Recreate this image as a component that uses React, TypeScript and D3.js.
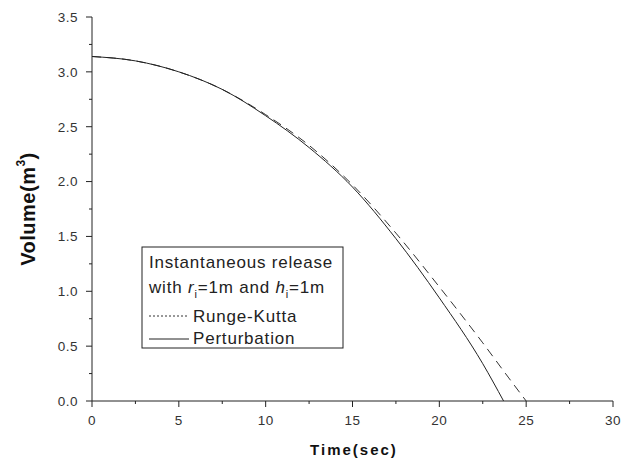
import React from 'react'
import * as d3 from 'd3'

// values
const timeRK = [0, 2.5, 5, 7.5, 10, 12.5, 15, 17.5, 20, 22.5, 24, 25]
const volumeRK = [3.14, 3.1, 3.0, 2.84, 2.61, 2.33, 1.97, 1.53, 1.04, 0.53, 0.21, 0]
const timePert = [0, 2.5, 5, 7.5, 10, 12.5, 15, 17.5, 20, 22.5, 23.7]
const volumePert = [3.14, 3.1, 3.0, 2.84, 2.6, 2.31, 1.95, 1.48, 0.94, 0.34, 0]

const xTicks = [0, 5, 10, 15, 20, 25, 30]
const yTicks = [0.0, 0.5, 1.0, 1.5, 2.0, 2.5, 3.0, 3.5]
const legendTitle = ['Instantaneous release']
const seriesNames = ['Runge-Kutta', 'Perturbation']

const font = 'Liberation Sans, Arial, sans-serif'

function App() {
    const width = 632
    const height = 459
    const margin = { top: 17, right: 19, bottom: 58, left: 92 }
    const innerWidth = width - margin.left - margin.right
    const innerHeight = height - margin.top - margin.bottom

    const x = d3.scaleLinear().domain([0, 30]).range([0, innerWidth])
    const y = d3.scaleLinear().domain([0, 3.5]).range([innerHeight, 0])

    const line = d3.line<[number, number]>()
        .x(d => x(d[0]))
        .y(d => y(d[1]))
        .curve(d3.curveMonotoneX)

    const rk = timeRK.map((t, i) => [t, volumeRK[i]] as [number, number])
    const pert = timePert.map((t, i) => [t, volumePert[i]] as [number, number])

    const xMinor = d3.range(2.5, 30, 5)
    const yMinor = d3.range(0.25, 3.5, 0.5)

    const lx = 142 - margin.left
    const ly = 247 - margin.top
    const lfs = 17

    return (
        <svg width={width} height={height} style={{ position: 'absolute', left: 0, top: 0, background: '#fff' }}>
            <g transform={`translate(${margin.left},${margin.top})`} fontFamily={font}>
                {/* axes */}
                <line x1={0} x2={0} y1={0} y2={innerHeight} stroke="#222" strokeWidth={1} />
                <line x1={0} x2={innerWidth} y1={innerHeight} y2={innerHeight} stroke="#222" strokeWidth={1} />
                {yTicks.map(v => (
                    <g key={'y' + v}>
                        <line x1={-6} x2={0} y1={y(v)} y2={y(v)} stroke="#222" />
                        <text x={-14} y={y(v)} dy="0.36em" textAnchor="end" fontSize={13.5} letterSpacing={0.5} fill="#333">{v.toFixed(1)}</text>
                    </g>
                ))}
                {yMinor.map(v => (
                    <line key={'ym' + v} x1={-3} x2={0} y1={y(v)} y2={y(v)} stroke="#222" />
                ))}
                {xTicks.map(v => (
                    <g key={'x' + v}>
                        <line x1={x(v)} x2={x(v)} y1={innerHeight} y2={innerHeight + 6} stroke="#222" />
                        <text x={x(v)} y={innerHeight + 24} textAnchor="middle" fontSize={13.5} letterSpacing={0.5} fill="#333">{v}</text>
                    </g>
                ))}
                {xMinor.map(v => (
                    <line key={'xm' + v} x1={x(v)} x2={x(v)} y1={innerHeight} y2={innerHeight + 3} stroke="#222" />
                ))}

                {/* curves */}
                <path d={line(rk) || ''} fill="none" stroke="#333" strokeWidth={1} strokeDasharray="9,6" />
                <path d={line(pert) || ''} fill="none" stroke="#222" strokeWidth={1} />

                {/* legend */}
                <rect x={lx} y={ly} width={201} height={101} fill="#fff" stroke="#222" strokeWidth={1} />
                <text x={lx + 7} y={ly + 21} fontSize={lfs} letterSpacing={0.8} fill="#222">{legendTitle[0]}</text>
                <text x={lx + 7} y={ly + 46} fontSize={lfs} letterSpacing={0.8} fill="#222">
                    with <tspan fontStyle="italic">r</tspan><tspan fontSize={11} dy={5}>i</tspan><tspan dy={-5}>=1m and </tspan>
                    <tspan fontStyle="italic">h</tspan><tspan fontSize={11} dy={5}>i</tspan><tspan dy={-5}>=1m</tspan>
                </text>
                <line x1={lx + 7} x2={lx + 47} y1={ly + 69} y2={ly + 69} stroke="#333" strokeDasharray="2,2" />
                <text x={lx + 51} y={ly + 75} fontSize={lfs} letterSpacing={0.8} fill="#222">{seriesNames[0]}</text>
                <line x1={lx + 7} x2={lx + 47} y1={ly + 92} y2={ly + 92} stroke="#222" />
                <text x={lx + 51} y={ly + 97} fontSize={lfs} letterSpacing={0.8} fill="#222">{seriesNames[1]}</text>

                {/* axis titles */}
                <text x={262} y={innerHeight + 54} textAnchor="middle" fontSize={15} letterSpacing={2} fontWeight="bold" fill="#111">Time(sec)</text>
                <text transform={`translate(${-57},${innerHeight / 2}) rotate(-90)`} textAnchor="middle" fontSize={20} letterSpacing={0.5} fontWeight="bold" fill="#111">
                    Volume(m<tspan fontSize={12} dy={-10}>3</tspan><tspan dy={10}>)</tspan>
                </text>
            </g>
        </svg>
    )
}

export default App
